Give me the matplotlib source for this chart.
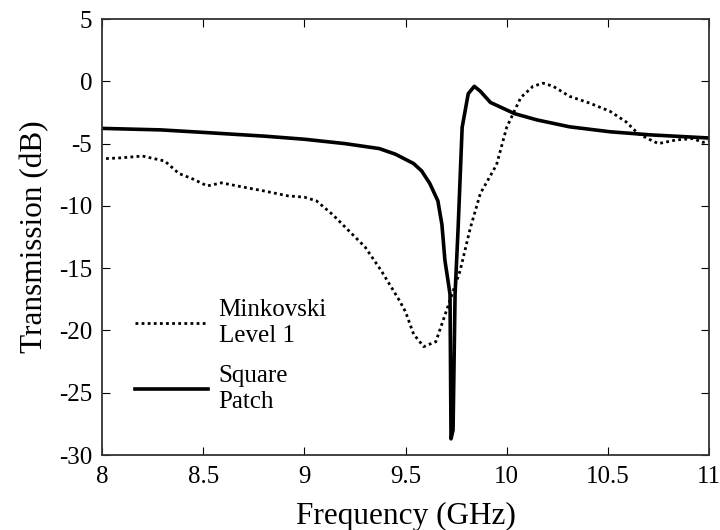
import matplotlib
matplotlib.use("Agg")
import matplotlib.pyplot as plt

plt.rcParams['font.family'] = ['Liberation Serif', 'DejaVu Serif']
plt.rcParams['axes.unicode_minus'] = False

# Square Patch (solid)
f_sq = [8.0, 8.29, 8.5, 8.8, 9.0, 9.2, 9.37, 9.45, 9.54, 9.58, 9.62, 9.66, 9.68,
        9.695, 9.71, 9.72, 9.725, 9.735, 9.745, 9.76, 9.78, 9.81, 9.84, 9.87,
        9.92, 10.04, 10.15, 10.31, 10.51, 10.71, 11.0]
t_sq = [-3.78, -3.9, -4.1, -4.4, -4.65, -5.0, -5.4, -5.85, -6.6, -7.2, -8.2, -9.6, -11.5,
        -14.4, -16.0, -17.1, -28.7, -28.0, -17.1, -11.8, -3.7, -1.0, -0.4, -0.8,
        -1.7, -2.6, -3.1, -3.65, -4.05, -4.3, -4.55]

# Minkovski Level 1 (dotted)
f_mk = [8.02, 8.09, 8.2, 8.31, 8.38, 8.45, 8.52, 8.59, 8.7, 8.8, 8.92, 9.0,
        9.06, 9.14, 9.22, 9.3, 9.38, 9.47, 9.5, 9.54, 9.59, 9.65, 9.69,
        9.73, 9.77, 9.82, 9.87, 9.95, 10.0, 10.07, 10.13, 10.18, 10.23,
        10.31, 10.41, 10.51, 10.59, 10.65, 10.71, 10.75, 10.84, 10.92, 10.97, 11.0]
t_mk = [-6.2, -6.15, -6.0, -6.4, -7.4, -7.85, -8.4, -8.15, -8.5, -8.8, -9.2, -9.3,
        -9.6, -10.7, -12.0, -13.3, -15.2, -17.6, -18.5, -20.3, -21.3, -20.9, -19.0,
        -17.1, -15.2, -11.8, -9.0, -6.7, -3.7, -1.3, -0.4, -0.15, -0.4,
        -1.2, -1.75, -2.4, -3.25, -4.2, -4.7, -5.0, -4.7, -4.6, -4.9, -4.8]

xticks = [8, 8.5, 9, 9.5, 10, 10.5, 11]
xticklabels = ['8', '8.5', '9', '9.5', '10', '10.5', '11']
yticks = [-30, -25, -20, -15, -10, -5, 0, 5]

fig = plt.figure(figsize=(7.2, 5.3), dpi=100)
ax = fig.add_axes([0.1417, 0.1415, 0.843, 0.8226])

ax.plot(f_mk, t_mk, color='black', lw=2, linestyle=(0, (1, 1.2)), label='Minkovski\nLevel 1')
ax.plot(f_sq, t_sq, color='black', lw=2.6, label='Square\nPatch')

ax.set_xlim(8, 11)
ax.set_ylim(-30, 5)
ax.set_xticks(xticks)
ax.set_xticklabels(xticklabels)
ax.set_yticks(yticks)
ax.tick_params(direction='in', length=6, labelsize=18, top=True, right=True)
ax.tick_params(axis='x', pad=8)
ax.tick_params(axis='y', pad=7)
for s in ax.spines.values():
    s.set_linewidth(1.3)
    s.set_color('#333333')

ax.set_xlabel('Frequency (GHz)', fontsize=22.5, labelpad=10)
ax.set_ylabel('Transmission (dB)', fontsize=22.5, labelpad=7)

ax.legend(loc='upper left', bbox_to_anchor=(0.034, 0.386), frameon=False, fontsize=18,
          borderpad=0, handlelength=2.9, handletextpad=0.44, labelspacing=0.74)

fig.savefig('out.png', dpi=100)
